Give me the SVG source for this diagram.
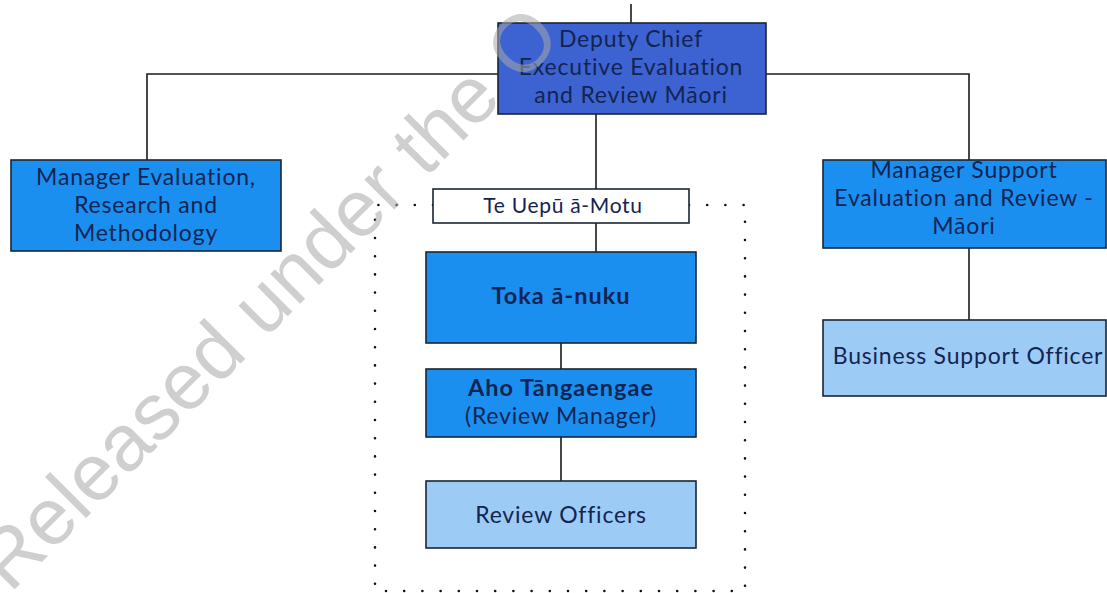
<svg xmlns="http://www.w3.org/2000/svg" width="1107" height="593" viewBox="0 0 1107 593">
<style>
.box{stroke:#1b2533;stroke-width:1.6}
.dark{fill:#3c63d1}
.mid{fill:#1a8ff0}
.light{fill:#9ccbf5}
.white{fill:#ffffff}
.t{font-family:Lato,"Open Sans",sans-serif;font-size:23px;letter-spacing:0.8px;fill:#142452;text-anchor:middle}
.b{font-weight:bold;font-size:23.5px;letter-spacing:1px}
.conn{stroke:#1b1b1b;stroke-width:1.6;fill:none}
.dots{stroke:#111;stroke-width:2.6;stroke-linecap:round;stroke-dasharray:0 18.2;fill:none}
.wm{font-family:"Liberation Sans",Arial,sans-serif;font-size:80px;fill:#a8a8a8;fill-opacity:0.55}
</style>
<rect width="1107" height="593" fill="#ffffff"/>
<g id="connectors">
<path class="conn" d="M631 4 V23"/>
<path class="conn" d="M147 160 V74 H498"/>
<path class="conn" d="M766 74 H969 V160"/>
<path class="conn" d="M969 248 V320"/>
<path class="conn" d="M596 114 V189"/>
<path class="conn" d="M596 223 V252"/>
<path class="conn" d="M561 343 V369"/>
<path class="conn" d="M561 437 V481"/>
</g>
<g id="group-boundary">
<path class="dots" d="M433 205 H375 V591 H745"/>
<path class="dots" d="M689 205 H745 V591"/>
</g>
<g id="deputy">
<rect class="box dark" x="498" y="23" width="268" height="91"/>
<text class="t" x="631" y="47">Deputy Chief</text>
<text class="t" x="631" y="75">Executive Evaluation</text>
<text class="t" x="631" y="103">and Review Māori</text>
</g>
<g id="manager-evaluation">
<rect class="box mid" x="11" y="160" width="270" height="91"/>
<text class="t" x="146" y="185">Manager Evaluation,</text>
<text class="t" x="146" y="213">Research and</text>
<text class="t" x="146" y="241">Methodology</text>
</g>
<g id="manager-support">
<rect class="box mid" x="823" y="160" width="283" height="88"/>
<text class="t" x="964" y="178">Manager Support</text>
<text class="t" x="964" y="206">Evaluation and Review -</text>
<text class="t" x="964" y="234">Māori</text>
</g>
<g id="business-support">
<rect class="box light" x="823" y="320" width="283" height="76"/>
<text class="t" x="968" y="364">Business Support Officer</text>
</g>
<g id="te-uepu">
<rect class="box white" x="433" y="189" width="256" height="34"/>
<text class="t" x="563" y="213" style="font-size:21px;letter-spacing:0.7px">Te Uepū ā-Motu</text>
</g>
<g id="toka">
<rect class="box mid" x="426" y="252" width="270" height="91"/>
<text class="t b" x="561" y="304">Toka ā-nuku</text>
</g>
<g id="aho">
<rect class="box mid" x="426" y="369" width="270" height="68"/>
<text class="t b" x="561" y="396">Aho Tāngaengae</text>
<text class="t" x="561" y="424">(Review Manager)</text>
</g>
<g id="review-officers">
<rect class="box light" x="426" y="481" width="270" height="67"/>
<text class="t" x="561" y="523">Review Officers</text>
</g>
<text class="wm" transform="translate(10 594) rotate(-45)">Released under the O</text>
</svg>
